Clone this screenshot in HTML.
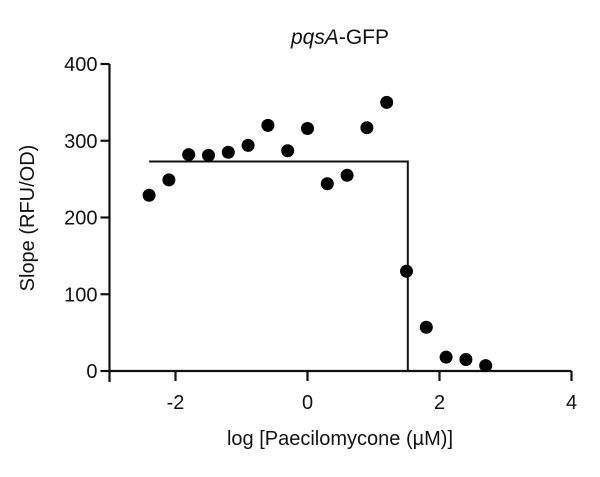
<!DOCTYPE html>
<html><head><meta charset="utf-8"><style>
html,body{margin:0;padding:0;background:#fff;width:600px;height:477px;overflow:hidden}
text{font-family:"Liberation Sans",sans-serif;fill:#111}
</style></head><body>
<svg id="chart" width="600" height="477" viewBox="0 0 600 477" xmlns="http://www.w3.org/2000/svg">
<text x="340" y="44" font-size="21" text-anchor="middle"><tspan font-style="italic">pqsA</tspan>-GFP</text>
<text transform="translate(34,218) rotate(-90)" font-size="20" text-anchor="middle">Slope (RFU/OD)</text>
<text x="340" y="445" font-size="20" text-anchor="middle">log [Paecilomycone (µM)]</text>
<g id="axes"></g><g id="marks"></g>
</svg>
<script>
const xVals=[-2.4,-2.1,-1.8,-1.5,-1.2,-0.9,-0.6,-0.3,0,0.3,0.6,0.9,1.2,1.5,1.8,2.1,2.4,2.7];
const yVals=[229,249,282,281,285,294,320,287,316,244,255,317,350,130,57,18,15,7];
const xTicks=[-2,0,2,4];
const yTicks=[0,100,200,300,400];
const fitTop=273, fitStart=-2.4, fitIC50=1.52, fitBottom=0;
const NS="http://www.w3.org/2000/svg";
const xs=v=>307.5+(v)*66;
const ys=v=>371-v*0.7675;
const axes=document.getElementById('axes'), marks=document.getElementById('marks');
function mk(p,tag,attrs){const e=document.createElementNS(NS,tag);for(const k in attrs)e.setAttribute(k,attrs[k]);p.appendChild(e);return e;}
let l=mk(axes,'line',{x1:xs(-3),y1:ys(400),x2:xs(-3),y2:382,stroke:'#111','stroke-width':2.2});


l=mk(axes,'line',{x1:xs(-3),y1:ys(0),x2:xs(4),y2:ys(0),stroke:'#111','stroke-width':2.2});


yTicks.forEach(t=>{
 const tk=mk(axes,'line',{x1:xs(-3)-9,y1:ys(t),x2:xs(-3),y2:ys(t),stroke:'#111','stroke-width':2.2});
 
 
 const tx=mk(axes,'text',{x:xs(-3)-12,y:ys(t)+7,'font-size':20,'text-anchor':'end'});tx.textContent=t;
 
 
});
xTicks.forEach(t=>{
 const tk=mk(axes,'line',{x1:xs(t),y1:ys(0),x2:xs(t),y2:ys(0)+10,stroke:'#111','stroke-width':2.2});
 
 
 const tx=mk(axes,'text',{x:xs(t),y:409,'font-size':20,'text-anchor':'middle'});tx.textContent=t;
 
 
});
const fit=mk(marks,'polyline',{points:`${xs(fitStart)},${ys(fitTop)} ${xs(fitIC50)},${ys(fitTop)} ${xs(fitIC50)},${ys(fitBottom)}`,fill:'none',stroke:'#111','stroke-width':2});


xVals.forEach((x,i)=>{
 const c=mk(marks,'circle',{cx:xs(x),cy:ys(yVals[i]),r:6.5,fill:'#000'});
 
 
});
</script>
</body></html>
